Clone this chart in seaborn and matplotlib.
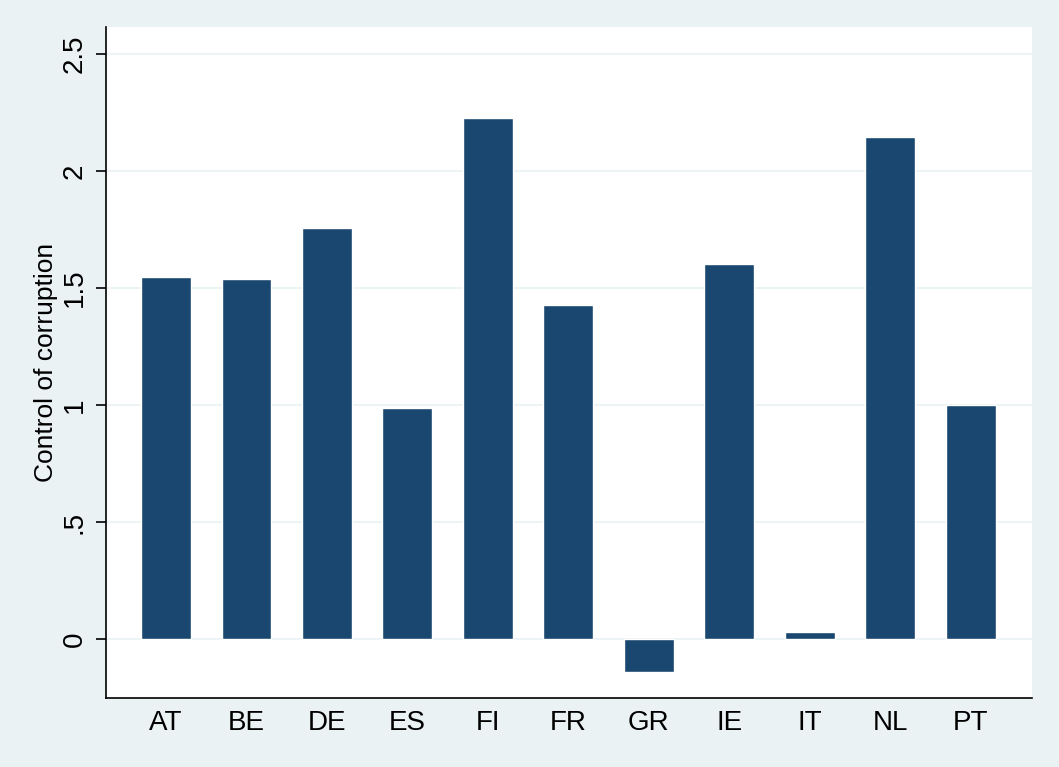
import matplotlib
matplotlib.use("Agg")
import matplotlib.pyplot as plt
import seaborn as sns
import pandas as pd

# Dane
countries = ["AT", "BE", "DE", "ES", "FI", "FR", "GR", "IE", "IT", "NL", "PT"]
corruption = [1.545, 1.537, 1.755, 0.988, 2.228, 1.425, -0.141, 1.603, 0.030, 2.146, 1.001]
yticks = [0, 0.5, 1, 1.5, 2, 2.5]
ytick_labels = ["0", ".5", "1", "1.5", "2", "2.5"]

df = pd.DataFrame({"country": countries, "control": corruption})

sns.set_style("white")
plt.rcParams["font.family"] = ["Liberation Sans", "DejaVu Sans"]
plt.rcParams["text.color"] = "black"
plt.rcParams["xtick.color"] = "black"
plt.rcParams["ytick.color"] = "black"
plt.rcParams["axes.labelcolor"] = "black"

bg = "#EAF2F3"
navy = "#1A476F"

fig = plt.figure(figsize=(10.59, 7.67), dpi=100, facecolor=bg)
ax = fig.add_axes([0.1001, 0.09, 0.8744, 0.8748])
ax.set_facecolor("white")

sns.barplot(data=df, x="country", y="control", color=navy, width=0.62,
            saturation=1, errorbar=None, ax=ax, zorder=3)

ax.set_xlim(-0.745, 10.76)
ax.set_ylim(-0.252, 2.615)
ax.set_yticks(yticks)
ax.set_yticklabels(ytick_labels, rotation=90, va="center", fontsize=20)
ax.tick_params(axis="y", length=7, width=1.2, color="black", pad=6, direction="out", left=True)
ax.tick_params(axis="x", length=0, pad=9, labelsize=20)
ax.grid(axis="y", color=bg, linewidth=1.2, zorder=0)
ax.set_axisbelow(True)

for s in ["top", "right"]:
    ax.spines[s].set_visible(False)
for s in ["left", "bottom"]:
    ax.spines[s].set_color("black")
    ax.spines[s].set_linewidth(1.2)

ax.set_xlabel("")
ax.set_ylabel("Control of corruption", fontsize=19, labelpad=3)

fig.savefig("out.png", dpi=100, facecolor=bg)
